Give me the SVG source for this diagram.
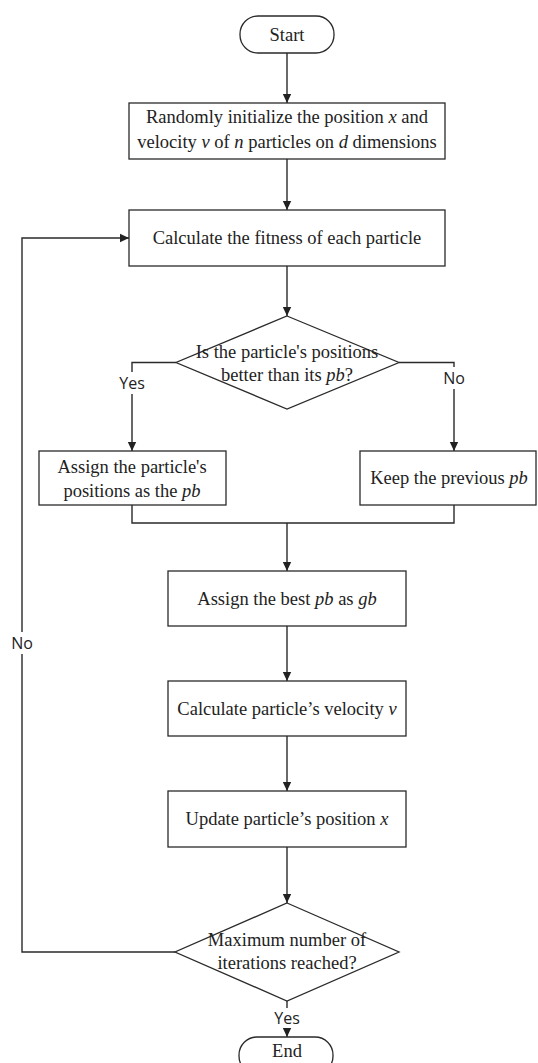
<svg xmlns="http://www.w3.org/2000/svg" width="538" height="1063" viewBox="0 0 538 1063">
<defs>
<style>
.box{fill:#fff;stroke:#2a2a2a;stroke-width:1.3}
.t{font-family:"Liberation Serif","Times New Roman",serif;font-size:18.5px;fill:#222;text-anchor:middle}
.i{font-style:italic}
.lbl{font-family:"Open Sans","Liberation Sans",sans-serif;font-size:16px;fill:#222;text-anchor:middle}
.c{fill:none;stroke:#2a2a2a;stroke-width:1.4}
</style>
<marker id="arr" markerWidth="10" markerHeight="10" refX="9" refY="5" orient="auto" markerUnits="userSpaceOnUse"><path d="M0,0.8 L9,5 L0,9.2 z" fill="#222"/></marker>
</defs>
<rect width="538" height="1063" fill="#fff"/>

<g id="connectors">
<path class="c" d="M287,53 V103" marker-end="url(#arr)"/>
<path class="c" d="M287,159 V210" marker-end="url(#arr)"/>
<path class="c" d="M287,266 V316" marker-end="url(#arr)"/>
<path class="c" d="M176,362.5 H132 V451" marker-end="url(#arr)"/>
<path class="c" d="M399,362.5 H454 V451" marker-end="url(#arr)"/>
<path class="c" d="M132,505 V523 H454 V505"/>
<path class="c" d="M287,523 V571" marker-end="url(#arr)"/>
<path class="c" d="M287,626 V681" marker-end="url(#arr)"/>
<path class="c" d="M287,736 V791" marker-end="url(#arr)"/>
<path class="c" d="M287,847 V903" marker-end="url(#arr)"/>
<path class="c" d="M175,952 H22 V238 H129" marker-end="url(#arr)"/>
<path class="c" d="M287,1001 V1037" marker-end="url(#arr)"/>
<rect x="115" y="372" width="34" height="22" fill="#fff"/>
<text class="lbl" x="132" y="389">Yes</text>
<rect x="440" y="367" width="28" height="22" fill="#fff"/>
<text class="lbl" x="454" y="384">No</text>
<rect x="8" y="632" width="28" height="22" fill="#fff"/>
<text class="lbl" x="22" y="649">No</text>
<rect x="270" y="1008" width="34" height="20" fill="#fff"/>
<text class="lbl" x="287" y="1024">Yes</text>
</g>

<g id="start">
<rect class="box" x="240" y="16" width="94" height="37" rx="18" ry="18"/>
<text class="t" x="287" y="41">Start</text>
</g>

<g id="init">
<rect class="box" x="129" y="103" width="316" height="56"/>
<text class="t" x="287" y="123">Randomly initialize the position <tspan class="i">x</tspan> and</text>
<text class="t" x="287" y="148">velocity <tspan class="i">v</tspan> of <tspan class="i">n</tspan> particles on <tspan class="i">d</tspan> dimensions</text>
</g>

<g id="fitness">
<rect class="box" x="129" y="210" width="316" height="56"/>
<text class="t" x="287" y="244">Calculate the fitness of each particle</text>
</g>

<g id="decision1">
<polygon class="box" points="287,316 399,362.5 287,409 176,362.5"/>
<text class="t" x="287" y="358">Is the particle's positions</text>
<text class="t" x="287" y="381">better than its <tspan class="i">pb</tspan>?</text>
</g>

<g id="assign">
<rect class="box" x="39" y="451" width="187" height="54"/>
<text class="t" x="132" y="473">Assign the particle's</text>
<text class="t" x="132" y="497">positions as the <tspan class="i">pb</tspan></text>
</g>

<g id="keep">
<rect class="box" x="360" y="451" width="176" height="54"/>
<text class="t" x="449" y="484">Keep the previous <tspan class="i">pb</tspan></text>
</g>

<g id="best">
<rect class="box" x="168" y="571" width="238" height="55"/>
<text class="t" x="287" y="605">Assign the best <tspan class="i">pb</tspan> as <tspan class="i">gb</tspan></text>
</g>

<g id="velocity">
<rect class="box" x="168" y="681" width="238" height="55"/>
<text class="t" x="287" y="715">Calculate particle’s velocity <tspan class="i">v</tspan></text>
</g>

<g id="update">
<rect class="box" x="168" y="791" width="238" height="56"/>
<text class="t" x="287" y="825">Update particle’s position <tspan class="i">x</tspan></text>
</g>

<g id="decision2">
<polygon class="box" points="287,903 399,952 287,1001 175,952"/>
<text class="t" x="287" y="946">Maximum number of</text>
<text class="t" x="287" y="969">iterations reached?</text>
</g>

<g id="end">
<rect class="box" x="239" y="1037" width="94" height="37" rx="18" ry="18"/>
<text class="t" x="287" y="1057">End</text>
</g>
</svg>
